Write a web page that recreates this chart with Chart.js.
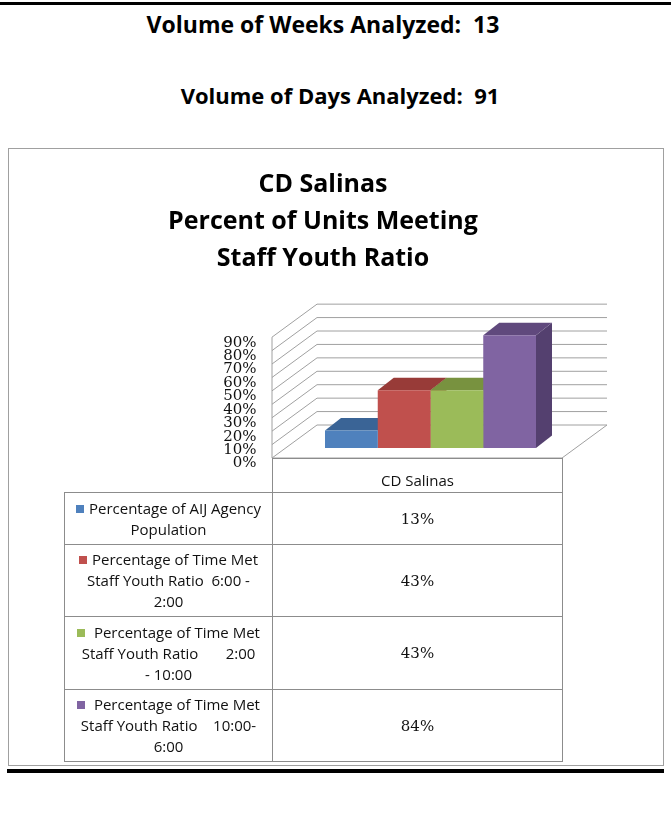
<!DOCTYPE html>
<html>
<head>
<meta charset="utf-8">
<script src="https://cdn.jsdelivr.net/npm/chart.js@4"></script>
<style>
  body { margin: 0; background: #fff; width: 671px; height: 829px; position: relative; overflow: hidden; font-family: "Open Sans", sans-serif; }
  .rule { position: absolute; background: #000; }
  .head { position: absolute; width: 500px; text-align: center; font-weight: bold; line-height: 30px; color: #000; white-space: pre; }
  #box { position: absolute; left: 8px; top: 148px; width: 654px; height: 616px; border: 1px solid #a0a0a0; }
  #chart { position: absolute; left: 0; top: 0; }
  #dataTable { position: absolute; left: 64px; top: 458px; border-collapse: collapse; color: #111; }
  #dataTable td { border: 1px solid #8c8c8c; padding: 0; }
  #dataTable td.name { width: 207px; text-align: center; font-size: 15px; line-height: 21px; white-space: pre; }
  #dataTable td.val { width: 289px; text-align: center; font-family: "DejaVu Serif", serif; font-size: 15px; }
  #dataTable td.hdr { text-align: center; vertical-align: bottom; padding-bottom: 2px; font-size: 15px; }
  .key { display: inline-block; width: 8px; height: 8px; margin-right: 5px; vertical-align: 1px; }
</style>
</head>
<body>
<div class="rule" style="left:0; top:2px; width:671px; height:3px;"></div>
<div class="head" style="left:73px; top:9px; font-size:23px;">Volume of Weeks Analyzed:  13</div>
<div class="head" style="left:90px; top:80px; font-size:22px;">Volume of Days Analyzed:  91</div>
<div id="box"></div>
<canvas id="chart" width="671" height="829"></canvas>
<table id="dataTable"></table>
<div class="rule" style="left:7px; top:769px; width:657px; height:4px;"></div>

<script>
// chart data
const chartTitle = ['CD Salinas', 'Percent of Units Meeting', 'Staff Youth Ratio'];
const categories = ['CD Salinas'];
const seriesNames = [
  'Percentage of AIJ Agency\nPopulation',
  'Percentage of Time Met\nStaff Youth Ratio  6:00 -\n2:00',
  ' Percentage of Time Met\nStaff Youth Ratio       2:00\n- 10:00',
  ' Percentage of Time Met\nStaff Youth Ratio    10:00-\n6:00'
];
const seriesValues = [13, 43, 43, 84];
const yMax = 90;
const yStep = 10;

// office 2007 palette: front, top, side
const fronts = ['#4F81BD', '#C0504D', '#9BBB59', '#8064A2'];
const tops = ['#3A6496', '#983B38', '#78923F', '#60497D'];
const sides = ['#33588A', '#8A3431', '#6C8537', '#54406F'];
const rowHeights = [52, 72, 73, 72];

// depth offsets relative to the plane the bar fronts sit on
const FRONT = { dx: -13.5, dy: 10 };
const BACK = { dx: 31.5, dy: -23 };
const BAR = { dx: 16, dy: -12.5 };

function line(ctx, x1, y1, x2, y2) {
  ctx.beginPath();
  ctx.moveTo(x1, y1);
  ctx.lineTo(x2, y2);
  ctx.stroke();
}

function poly(ctx, pts, color) {
  ctx.beginPath();
  ctx.moveTo(pts[0][0], pts[0][1]);
  for (let i = 1; i < pts.length; i++) ctx.lineTo(pts[i][0], pts[i][1]);
  ctx.closePath();
  ctx.fillStyle = color;
  ctx.fill();
}

// walls, floor and the top / side faces of the bars
const threeD = {
  id: 'threeD',
  beforeDatasetsDraw(chart) {
    const { ctx, chartArea: a, scales: { y } } = chart;
    const p0 = y.getPixelForValue(0);
    const pTop = y.getPixelForValue(yMax);
    ctx.save();
    ctx.strokeStyle = '#a0a0a0';
    ctx.lineWidth = 1;
    y.ticks.forEach(t => {
      const py = y.getPixelForValue(t.value);
      line(ctx, a.left + BACK.dx, py + BACK.dy, a.right + BACK.dx, py + BACK.dy);
      line(ctx, a.left + FRONT.dx, py + FRONT.dy, a.left + BACK.dx, py + BACK.dy);
    });
    line(ctx, a.left + FRONT.dx, p0 + FRONT.dy, a.left + FRONT.dx, pTop + FRONT.dy);
    line(ctx, a.left + FRONT.dx, p0 + FRONT.dy, a.right + FRONT.dx, p0 + FRONT.dy);
    line(ctx, a.right + FRONT.dx, p0 + FRONT.dy, a.right + BACK.dx, p0 + BACK.dy);

    chart.data.datasets.forEach((ds, i) => {
      const bar = chart.getDatasetMeta(i).data[0];
      const { x, y: top, base, width } = bar.getProps(['x', 'y', 'base', 'width'], true);
      const x0 = x - width / 2, x1 = x + width / 2;
      poly(ctx, [[x1, top], [x1 + BAR.dx, top + BAR.dy], [x1 + BAR.dx, base + BAR.dy], [x1, base]], sides[i]);
      poly(ctx, [[x0, top], [x0 + BAR.dx, top + BAR.dy], [x1 + BAR.dx, top + BAR.dy], [x1, top]], tops[i]);
    });
    ctx.restore();
  }
};

new Chart(document.getElementById('chart'), {
  type: 'bar',
  data: {
    labels: categories,
    datasets: seriesValues.map((v, i) => ({
      label: seriesNames[i],
      data: [v],
      backgroundColor: fronts[i],
      borderWidth: 0,
      categoryPercentage: 0.7276,
      barPercentage: 1
    }))
  },
  options: {
    responsive: false,
    animation: false,
    layout: { padding: { left: 8, right: 33, top: 150, bottom: 381 } },
    plugins: {
      legend: { display: false },
      tooltip: { enabled: false },
      title: {
        display: true,
        text: chartTitle,
        color: '#000',
        font: { family: 'Open Sans', size: 25, weight: 'bold', lineHeight: 1.49 },
        padding: { top: 16, bottom: 49.4 }
      }
    },
    scales: {
      x: { display: false },
      y: {
        min: 0,
        max: yMax,
        afterFit: s => { s.width = 277.5; },
        border: { display: false },
        grid: { display: false },
        ticks: {
          stepSize: yStep,
          autoSkip: false,
          padding: 21,
          labelOffset: 15.5,
          color: '#111',
          font: { family: 'DejaVu Serif', size: 15 },
          callback: v => v + '%'
        }
      },
      // empty right axis, only reserves room so the plot sits where the original does
      y2: {
        position: 'right',
        afterFit: s => { s.width = 62.5; },
        border: { display: false },
        grid: { display: false },
        ticks: { display: false }
      }
    }
  },
  plugins: [threeD]
});

// data table under the chart
const table = document.getElementById('dataTable');
let html = '<tr style="height:34px"><td style="border:none; border-bottom:1px solid #8c8c8c"></td><td class="hdr">' + categories[0] + '</td></tr>';
seriesNames.forEach((name, i) => {
  html += '<tr style="height:' + rowHeights[i] + 'px"><td class="name"><span class="key" style="background:' + fronts[i] + '"></span>' +
    name + '</td><td class="val">' + seriesValues[i] + '%</td></tr>';
});
table.innerHTML = html;
</script>
</body>
</html>
